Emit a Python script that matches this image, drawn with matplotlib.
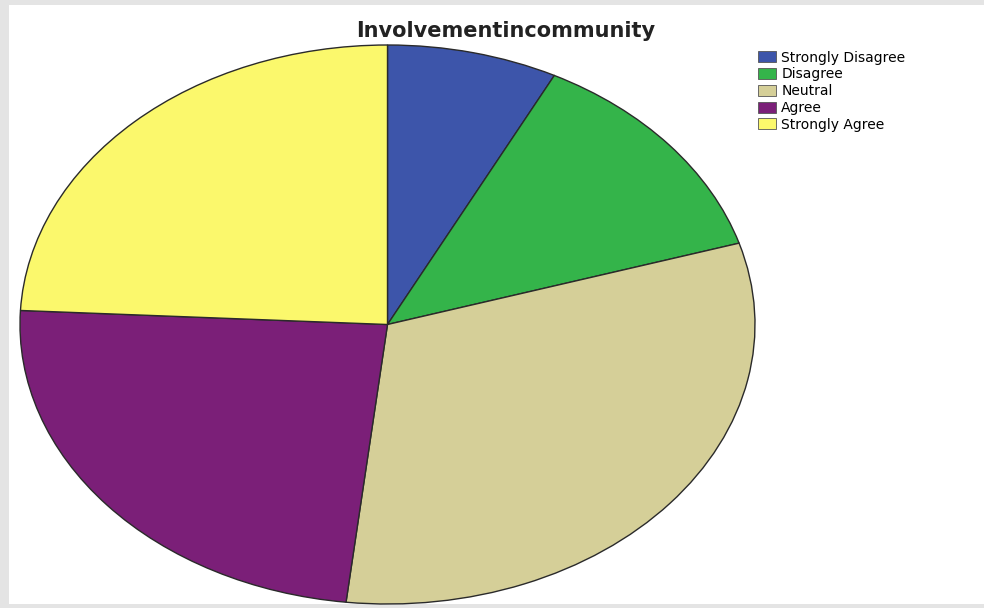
import matplotlib.pyplot as plt
from matplotlib.patches import Rectangle

categories = ['Strongly Disagree', 'Disagree', 'Neutral', 'Agree', 'Strongly Agree']
percent = [7.5, 12.8, 31.5, 24.0, 24.2]
colors = ['#3d55aa', '#34b44a', '#d5cf98', '#7b1f78', '#fbf86c']

W, H = 984, 608
fig = plt.figure(figsize=(W / 100, H / 100), dpi=100)
fig.patch.set_facecolor('#e4e4e4')

# white panel inside the gray frame
bg = fig.add_axes([9 / W, 4 / H, 975 / W, 599 / H])
bg.set_facecolor('white')
bg.set_xticks([])
bg.set_yticks([])
for s in bg.spines.values():
    s.set_visible(False)

# stretched pie: axes box matches the ellipse in pixels
ax = fig.add_axes([20 / W, (H - 604) / H, 735 / W, 559 / H])
ax.pie(percent, colors=colors, startangle=90, counterclock=False,
       wedgeprops=dict(edgecolor='#2a2a2a', linewidth=1.0))
ax.set_aspect('auto')
ax.set_xlim(-1, 1)
ax.set_ylim(-1, 1)
ax.axis('off')

fig.text(506 / W, 1 - 31 / H, 'Involvementincommunity', ha='center', va='center',
         fontsize=15, fontweight='bold', family='DejaVu Sans', color='#222222')

handles = [Rectangle((0, 0), 1, 1, facecolor=c, edgecolor='#555555', linewidth=0.6) for c in colors]
fig.legend(handles, categories, loc='upper left', bbox_to_anchor=(752 / W, 1 - 45 / H),
           frameon=False, prop={'family': 'DejaVu Sans', 'size': 10},
           handlelength=1.3, handleheight=0.85, handletextpad=0.4, labelspacing=0.2,
           borderaxespad=0)

plt.savefig('out.png', dpi=100)
